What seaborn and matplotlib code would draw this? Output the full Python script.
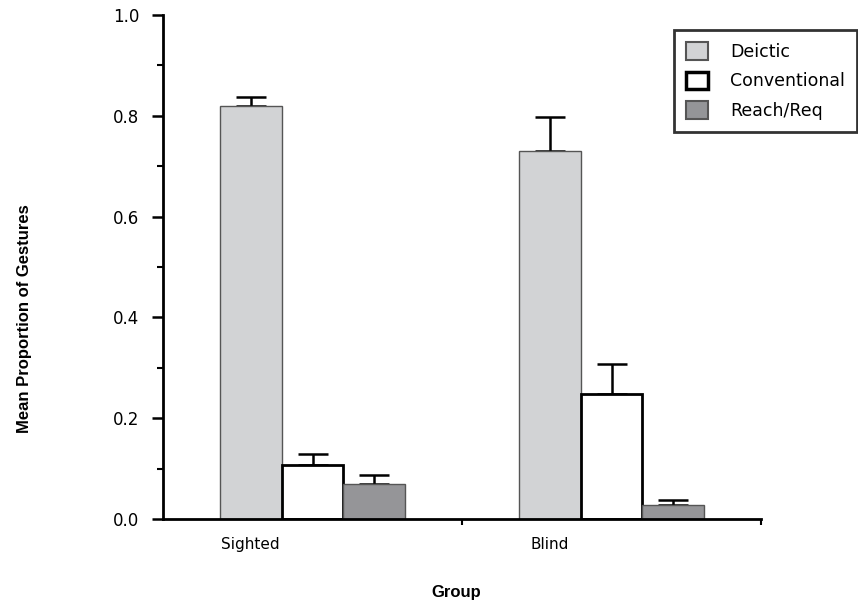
import numpy as np
import pandas as pd
import seaborn as sns
import matplotlib.pyplot as plt

# data
groups = ["Sighted", "Blind"]
gesture_types = ["Deictic", "Conventional", "Reach/Req"]
means = {
    "Deictic": [0.820, 0.730],
    "Conventional": [0.108, 0.248],
    "Reach/Req": [0.070, 0.028],
}
errors = {
    "Deictic": [0.018, 0.068],
    "Conventional": [0.020, 0.060],
    "Reach/Req": [0.017, 0.010],
}

colors = ["#d2d3d5", "#ffffff", "#949598"]
edges = ["#555555", "#000000", "#555555"]
edge_widths = [1.0, 2.0, 1.0]

sns.set_style("ticks")
plt.rcParams['font.family'] = ['DejaVu Sans']
for k in ['text.color', 'axes.labelcolor', 'xtick.color', 'ytick.color']:
    plt.rcParams[k] = 'black'

rows = []
for g_i, g in enumerate(groups):
    for t in gesture_types:
        rows.append({"Group": g, "Type": t, "value": means[t][g_i], "err": errors[t][g_i]})
df = pd.DataFrame(rows)

fig = plt.figure(figsize=(8.58, 6.02), dpi=100)
ax = fig.add_axes([163 / 858, 83 / 602, 598 / 858, 504 / 602])

total_width = 0.62
sns.barplot(data=df, x="Group", y="value", hue="Type", order=groups,
            hue_order=gesture_types, palette=colors, width=total_width,
            errorbar=None, ax=ax, legend=False, zorder=2)

bar_w = total_width / len(gesture_types)
bar_containers = list(ax.containers)
# style bars + error bars (only upward)
for h_i, container in enumerate(bar_containers):
    t = gesture_types[h_i]
    for g_i, patch in enumerate(container):
        patch.set_edgecolor(edges[h_i])
        patch.set_linewidth(edge_widths[h_i])
        cx = patch.get_x() + patch.get_width() / 2
        top = patch.get_height()
        ax.errorbar(cx, top, yerr=[[0], [errors[t][g_i]]], fmt="none",
                    ecolor="black", elinewidth=1.8, capsize=11, capthick=1.8,
                    zorder=1)

ax.set_xlim(-0.5, 1.5)
ax.set_ylim(0, 1.0)
ax.set_yticks(np.arange(0, 1.01, 0.2))
ax.set_yticklabels([f"{v:.1f}" for v in np.arange(0, 1.01, 0.2)])
ax.set_yticks(np.arange(0.1, 1.0, 0.2), minor=True)
ax.set_xticks([0 - bar_w, 1 - bar_w])
ax.set_xticklabels(groups)
ax.set_xticks([0.5, 1.5], minor=True)

ax.tick_params(axis="y", which="major", length=8, width=1.8, pad=9,
               labelsize=12)
ax.tick_params(axis="y", which="minor", length=4, width=1.5)
ax.tick_params(axis="x", which="major", length=0, pad=13, labelsize=11)
ax.tick_params(axis="x", which="minor", length=4, width=1.5)

for side in ["left", "bottom"]:
    ax.spines[side].set_linewidth(2)
    ax.spines[side].set_color("black")
sns.despine(ax=ax)

ax.set_xlabel("Group", fontsize=12, fontweight="bold", family="Liberation Sans")
ax.xaxis.set_label_coords(0.49, -0.13)
ax.set_ylabel("Mean Proportion of Gestures", fontsize=12, fontweight="bold",
              family="Liberation Sans")
ax.yaxis.set_label_coords(-0.219, 0.397)

handles = [plt.Rectangle((0, 0), 1, 1, facecolor=colors[i], edgecolor=edges[i],
                         linewidth=edge_widths[i] + 0.5) for i in range(3)]
leg = fig.legend(handles, gesture_types, loc="upper right",
                 bbox_to_anchor=(857 / 858, 1 - 30 / 602), fontsize=12.5,
                 frameon=True, fancybox=False, edgecolor="black",
                 handlelength=1.3, handleheight=1.2, handletextpad=1.25,
                 labelspacing=0.62, borderpad=0.7, borderaxespad=0)
leg.get_frame().set_linewidth(2)

fig.savefig("out.png", dpi=100)
